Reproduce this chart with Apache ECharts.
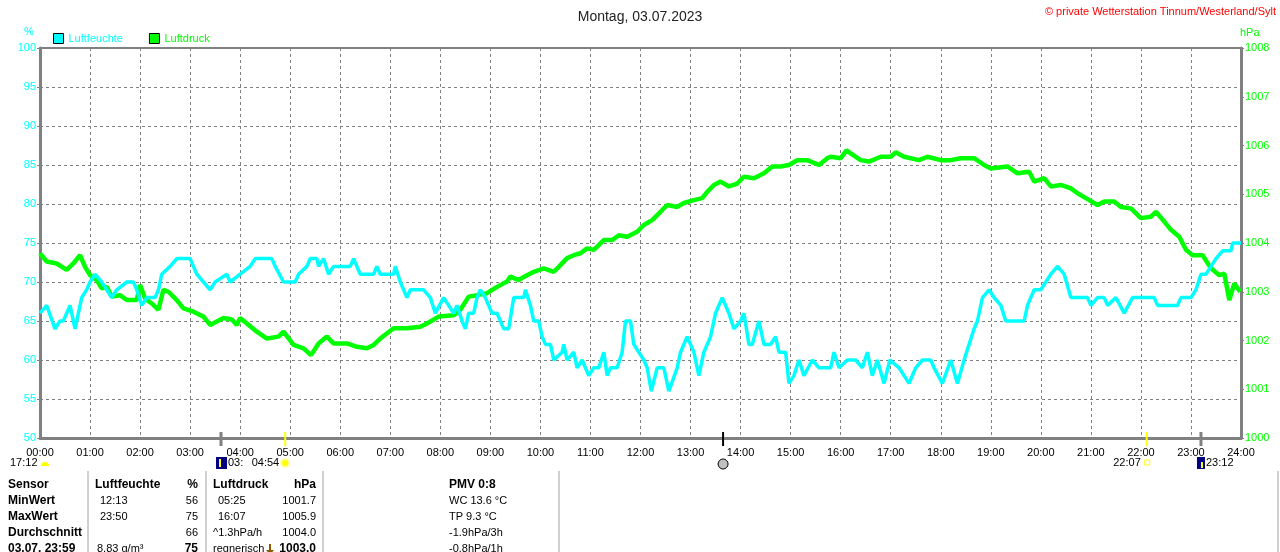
<!DOCTYPE html>
<html>
<head>
<meta charset="utf-8">
<title>Montag, 03.07.2023</title>
<script src="https://cdn.jsdelivr.net/npm/echarts@6/dist/echarts.min.js"></script>
<style>
  html, body { margin: 0; padding: 0; background: #fff; }
  #main { width: 1280px; height: 552px; }
</style>
</head>
<body>
<div id="main"></div>
<script>
// Luftfeuchte (%) - Zeitpunkte und Werte
const humTimes = ['00:00','00:08','00:18','00:24','00:28','00:36','00:42','00:50','00:56','01:00','01:06','01:14','01:20','01:26','01:32','01:44','01:52','01:56','02:02','02:08','02:18','02:22','02:26','02:36','02:44','03:00','03:08','03:16','03:24','03:30','03:44','03:48','04:00','04:12','04:18','04:38','04:42','04:52','05:06','05:10','05:20','05:24','05:32','05:34','05:40','05:46','05:52','06:12','06:16','06:24','06:40','06:44','06:48','07:04','07:06','07:12','07:16','07:20','07:24','07:40','07:48','07:54','08:04','08:10','08:16','08:20','08:26','08:30','08:34','08:40','08:44','08:48','08:54','09:02','09:08','09:16','09:22','09:28','09:40','09:42','09:48','09:52','09:58','10:02','10:06','10:12','10:16','10:26','10:28','10:32','10:40','10:44','10:50','10:58','11:04','11:10','11:16','11:20','11:24','11:32','11:38','11:42','11:48','11:52','11:58','12:04','12:08','12:13','12:20','12:28','12:34','12:44','12:48','12:56','13:04','13:10','13:16','13:24','13:30','13:38','13:46','13:52','14:00','14:04','14:10','14:14','14:22','14:28','14:36','14:42','14:46','14:54','14:58','15:04','15:10','15:16','15:26','15:34','15:42','15:48','15:52','15:58','16:08','16:18','16:26','16:32','16:38','16:44','16:52','16:59','17:10','17:16','17:22','17:30','17:38','17:48','17:52','18:02','18:12','18:20','18:28','18:34','18:40','18:44','18:50','18:58','19:04','19:12','19:18','19:32','19:40','19:44','19:52','20:00','20:06','20:12','20:20','20:28','20:36','20:56','21:00','21:08','21:16','21:20','21:30','21:40','21:50','22:00','22:16','22:20','22:44','22:48','23:00','23:06','23:12','23:18','23:24','23:30','23:38','23:48','23:50','24:00'];
const humValues = [66,67,64,65,65,67,64,68,69,70,71,70,69,68,69,70,70,69,67,68,68,69,71,72,73,73,71,70,69,70,71,70,71,72,73,73,72,70,70,71,72,73,73,72,73,71,72,72,73,71,71,72,71,71,72,70,69,68,69,69,68,66,68,67,66,67,65,64,66,66,68,69,68,66,66,64,64,68,68,69,67,65,65,63,62,62,60,61,62,60,61,59,60,58,59,59,61,58,59,59,61,65,65,62,61,60,59,56,59,59,56,59,61,63,61,58,61,63,66,68,66,64,65,66,62,62,65,62,62,63,61,61,57,58,60,58,60,59,59,59,61,59,60,60,59,61,58,60,57,60,59,58,57,59,60,60,59,57,60,57,60,62,64,65,68,69,68,67,65,65,65,67,69,69,70,71,72,71,68,68,67,68,68,67,68,66,68,68,68,67,67,68,68,69,71,71,72,73,74,74,75,75];

// Luftdruck (hPa)
const presTimes = ['00:00','00:08','00:20','00:32','00:40','00:48','00:54','01:00','01:08','01:14','01:20','01:26','01:36','01:44','01:56','02:00','02:06','02:14','02:22','02:28','02:34','02:44','02:52','03:04','03:16','03:24','03:40','03:50','03:56','04:00','04:08','04:20','04:32','04:46','04:52','05:04','05:16','05:25','05:34','05:44','05:52','06:08','06:20','06:32','06:40','06:48','07:04','07:20','07:36','07:44','07:58','08:16','08:24','08:34','08:44','08:56','09:08','09:20','09:24','09:34','09:44','09:52','10:04','10:16','10:22','10:32','10:40','10:48','10:56','11:04','11:16','11:26','11:34','11:44','11:56','12:04','12:14','12:24','12:32','12:44','12:52','13:04','13:14','13:20','13:28','13:36','13:46','13:56','14:04','14:16','14:28','14:38','14:48','14:58','15:08','15:20','15:34','15:44','15:48','16:00','16:07','16:12','16:24','16:34','16:48','17:00','17:06','17:16','17:34','17:44','18:00','18:12','18:24','18:40','18:52','19:00','19:20','19:32','19:46','19:52','20:04','20:12','20:24','20:36','20:44','20:54','21:08','21:16','21:28','21:36','21:48','22:00','22:12','22:18','22:28','22:36','22:46','22:54','23:02','23:14','23:24','23:34','23:40','23:46','23:52','23:59'];
const presValues = [1003.79,1003.62,1003.58,1003.45,1003.58,1003.75,1003.51,1003.34,1003.24,1003.07,1003.10,1002.90,1002.93,1002.83,1002.83,1003.14,1002.86,1002.76,1002.63,1003.04,1003.00,1002.83,1002.66,1002.59,1002.49,1002.32,1002.46,1002.43,1002.32,1002.46,1002.35,1002.18,1002.04,1002.08,1002.18,1001.91,1001.84,1001.70,1001.94,1002.08,1001.94,1001.94,1001.87,1001.84,1001.91,1002.04,1002.25,1002.25,1002.28,1002.35,1002.49,1002.52,1002.63,1002.90,1002.93,1002.97,1003.10,1003.21,1003.31,1003.24,1003.34,1003.41,1003.48,1003.41,1003.51,1003.69,1003.75,1003.79,1003.89,1003.86,1004.06,1004.06,1004.16,1004.13,1004.23,1004.37,1004.47,1004.64,1004.78,1004.74,1004.82,1004.88,1004.92,1005.05,1005.19,1005.26,1005.16,1005.22,1005.36,1005.33,1005.43,1005.57,1005.57,1005.60,1005.70,1005.70,1005.60,1005.74,1005.77,1005.74,1005.90,1005.84,1005.70,1005.67,1005.77,1005.77,1005.86,1005.77,1005.70,1005.77,1005.70,1005.70,1005.74,1005.74,1005.60,1005.53,1005.57,1005.43,1005.46,1005.26,1005.33,1005.16,1005.19,1005.12,1005.02,1004.92,1004.78,1004.85,1004.85,1004.74,1004.71,1004.51,1004.54,1004.64,1004.44,1004.27,1004.13,1003.86,1003.75,1003.75,1003.48,1003.34,1003.37,1002.83,1003.17,1003.00];

// Ereignisse unter der Zeitachse
const eventTimes = ['03:37','04:54','13:39','22:07','23:12'];
const eventColors = ['#808080','#ffff00','#000000','#ffff00','#808080'];

// Tabelle
const tableHeader = ['Sensor','Luftfeuchte','%','Luftdruck','hPa','PMV 0:8'];
const tableRows = [
  ['MinWert','12:13','56','05:25','1001.7','WC 13.6 °C'],
  ['MaxWert','23:50','75','16:07','1005.9','TP 9.3 °C'],
  ['Durchschnitt','','66','^1.3hPa/h','1004.0','-1.9hPa/3h'],
  ['03.07. 23:59','8.83 g/m³','75','regnerisch','1003.0','-0.8hPa/1h']
];

function toMin(t) {
  const p = t.split(':');
  return (+p[0]) * 60 + (+p[1]);
}
function pad(n) { return (n < 10 ? '0' : '') + n; }

const humData = humTimes.map((t, i) => [toMin(t), humValues[i]]);
const presData = presTimes.map((t, i) => [toMin(t), presValues[i]]);

const FONT = 'Liberation Sans';
const grayLine = '#808080';

let myChart = echarts.init(document.getElementById('main'));
let option = {
  backgroundColor: '#fff',
  animation: false,
  textStyle: { fontFamily: FONT },
  title: {
    text: 'Montag, 03.07.2023',
    left: 'center',
    top: 5,
    textStyle: { color: '#222', fontSize: 14, fontWeight: 'normal', fontFamily: FONT }
  },
  legend: {
    left: 48,
    top: 28,
    itemWidth: 10,
    itemHeight: 10,
    itemGap: 26,
    icon: 'rect',
    itemStyle: { borderColor: '#000', borderWidth: 1 },
    data: [
      { name: 'Luftfeuchte', textStyle: { color: '#00ffff' } },
      { name: 'Luftdruck', textStyle: { color: '#00ff00' } }
    ],
    textStyle: { fontSize: 11, fontFamily: FONT }
  },
  grid: {
    left: 40, right: 39, top: 48, bottom: 114,
    show: true, borderColor: grayLine, borderWidth: 2
  },
  xAxis: {
    type: 'value',
    min: 0, max: 1440, interval: 60,
    axisLine: { lineStyle: { color: grayLine, width: 3 } },
    axisTick: { show: false },
    axisLabel: {
      color: '#000', fontSize: 11, margin: 9,
      formatter: v => pad(v / 60) + ':00'
    },
    splitLine: { show: true, lineStyle: { color: grayLine, type: [3, 3], width: 1 } }
  },
  yAxis: [
    {
      type: 'value', min: 50, max: 100, interval: 5,
      axisLine: { show: true, lineStyle: { color: grayLine, width: 3 } },
      axisTick: { show: true, length: 3, lineStyle: { color: grayLine } },
      axisLabel: { color: '#00ffff', fontSize: 11, margin: 4, formatter: v => String(v) },
      splitLine: { show: true, lineStyle: { color: grayLine, type: [3, 3], width: 1 } }
    },
    {
      type: 'value', min: 1000, max: 1008, interval: 1,
      axisLine: { show: true, lineStyle: { color: grayLine, width: 3 } },
      axisTick: { show: true, length: 3, lineStyle: { color: grayLine } },
      axisLabel: { color: '#00ff00', fontSize: 11, margin: 4, formatter: v => String(v) },
      splitLine: { show: false }
    }
  ],
  series: [
    {
      name: 'Luftdruck', type: 'line', yAxisIndex: 1,
      data: presData, showSymbol: false,
      itemStyle: { color: '#00ff00' },
      lineStyle: { color: '#00ff00', width: 4.5 }
    },
    {
      name: 'Luftfeuchte', type: 'line', yAxisIndex: 0,
      data: humData, showSymbol: false,
      itemStyle: { color: '#00ffff' },
      lineStyle: { color: '#00ffff', width: 3.5 }
    }
  ]
};
myChart.setOption(option);

// Beschriftungen, Ereignis-Markierungen und Tabelle
const g = [];
g.push({ type: 'text', left: 24, top: 26, style: { text: '%', fill: '#00ffff', font: '11px ' + FONT } });
g.push({ type: 'text', left: 1240, top: 27, style: { text: 'hPa', fill: '#00ff00', font: '11px ' + FONT } });
g.push({ type: 'text', right: 4, top: 6, style: { text: '© private Wetterstation Tinnum/Westerland/Sylt', fill: '#ff0000', font: '11px ' + FONT } });

const yAxisPx = myChart.convertToPixel({ yAxisIndex: 0 }, 50);
eventTimes.forEach((t, i) => {
  const x = myChart.convertToPixel({ xAxisIndex: 0 }, toMin(t));
  g.push({ type: 'line', shape: { x1: x, y1: yAxisPx - 6, x2: x, y2: yAxisPx + 8 }, style: { stroke: eventColors[i], lineWidth: i === 0 || i === 4 ? 3 : 2 }, z: 10 });
});
function evX(i) { return myChart.convertToPixel({ xAxisIndex: 0 }, toMin(eventTimes[i])); }
const rowY = yAxisPx + 25;
function label(text, x, y, align) {
  g.push({ type: 'text', x: x, y: y, style: { text: text, fill: '#000', font: '11px ' + FONT, align: align || 'left', verticalAlign: 'middle' } });
}
// Mond / Sonne Zeiten
label('17:12', 10, rowY);
g.push({ type: 'sector', shape: { cx: 45, cy: rowY + 3, r: 4, startAngle: Math.PI, endAngle: 2 * Math.PI }, style: { fill: '#ffff00' } });
g.push({ type: 'rect', shape: { x: evX(0) - 5, y: rowY - 6, width: 11, height: 12 }, style: { fill: '#000080' } });
g.push({ type: 'line', shape: { x1: evX(0) - 1, y1: rowY - 4, x2: evX(0) - 1, y2: rowY + 4 }, style: { stroke: '#ffff00', lineWidth: 2 } });
label('03:', evX(0) + 7, rowY);
label('04:54', evX(1) - 6, rowY, 'right');
g.push({ type: 'circle', shape: { cx: evX(1), cy: rowY, r: 4 }, style: { fill: '#ffff00', stroke: '#ffff99', lineWidth: 2 } });
g.push({ type: 'circle', shape: { cx: evX(2), cy: rowY + 1, r: 5 }, style: { fill: '#c0c0c0', stroke: '#000', lineWidth: 1 } });
label('22:07', evX(3) - 6, rowY, 'right');
g.push({ type: 'rect', shape: { x: evX(3) - 2, y: rowY - 3, width: 5, height: 5 }, style: { fill: '#fff', stroke: '#ffff00', lineWidth: 1 } });
g.push({ type: 'rect', shape: { x: evX(4) - 4, y: rowY - 6, width: 8, height: 12 }, style: { fill: '#000080' } });
g.push({ type: 'line', shape: { x1: evX(4) + 1, y1: rowY - 1, x2: evX(4) + 1, y2: rowY + 5 }, style: { stroke: '#ffff00', lineWidth: 2 } });
label('23:12', evX(4) + 5, rowY);

// Tabelle
const sepX = [88, 206, 323, 559, 1278];
sepX.forEach(x => g.push({ type: 'line', shape: { x1: x, y1: 471, x2: x, y2: 552 }, style: { stroke: '#a0a0a0', lineWidth: 1 } }));
const rowsY = [485, 501, 517, 533, 549];
const bold = 'bold 12px ' + FONT;
const norm = '11px ' + FONT;
function cell(text, x, y, font, align) {
  g.push({ type: 'text', x: x, y: y, style: { text: text, fill: '#000', font: font, align: align || 'left', verticalAlign: 'middle' } });
}
cell(tableHeader[0], 8, rowsY[0], bold);
cell(tableHeader[1], 95, rowsY[0], bold);
cell(tableHeader[2], 198, rowsY[0], bold, 'right');
cell(tableHeader[3], 213, rowsY[0], bold);
cell(tableHeader[4], 316, rowsY[0], bold, 'right');
cell(tableHeader[5], 449, rowsY[0], bold);
tableRows.forEach((r, i) => {
  const y = rowsY[i + 1];
  const last = i === tableRows.length - 1;
  cell(r[0], 8, y, bold);
  cell(r[1], last ? 97 : 100, y, norm);
  cell(r[2], 198, y, last ? bold : norm, 'right');
  cell(r[3], i >= 2 ? 213 : 218, y, norm);
  cell(r[4], 316, y, last ? bold : norm, 'right');
  cell(r[5], 449, y, norm);
});
// Pfeil vor dem aktuellen Luftdruck
g.push({ type: 'line', shape: { x1: 270, y1: rowsY[4] - 5, x2: 270, y2: rowsY[4] + 4 }, style: { stroke: '#8b5a00', lineWidth: 2 } });
g.push({ type: 'polygon', shape: { points: [[266, rowsY[4] + 1], [274, rowsY[4] + 1], [270, rowsY[4] + 6]] }, style: { fill: '#8b5a00' } });
myChart.setOption({ graphic: g });
</script>
</body>
</html>
